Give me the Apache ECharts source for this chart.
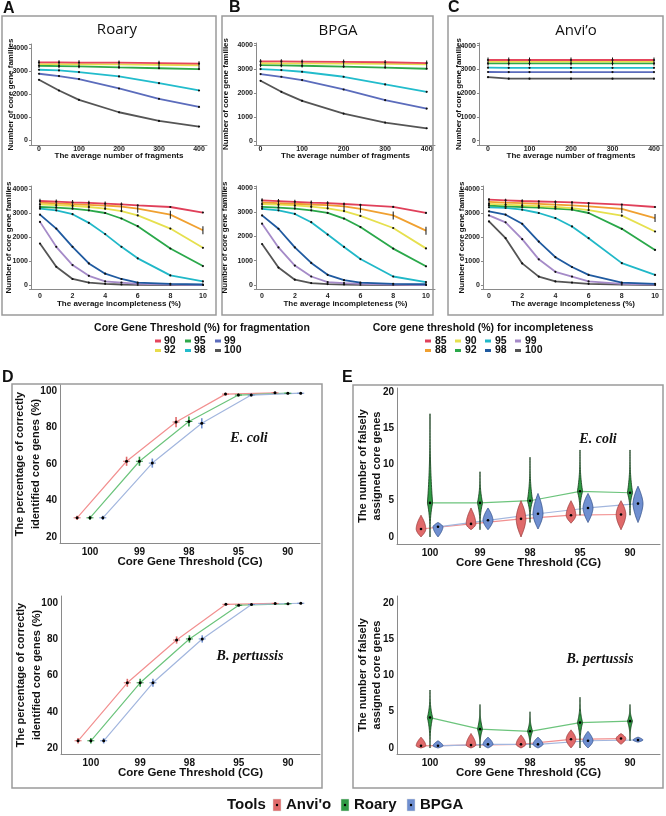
<!DOCTYPE html>
<html><head><meta charset="utf-8">
<script src="https://cdn.jsdelivr.net/npm/echarts@6/dist/echarts.min.js"></script>
<style>html,body{margin:0;padding:0;background:#fff}#c{width:666px;height:816px}</style>
</head><body><div id="c"></div><script>
// ---------- DATA ----------
const fragX = [0, 50, 100, 200, 300, 400];
const fragThresholds = ['90', '92', '95', '98', '99', '100'];
const roaryFrag = [
  [3375, 3372, 3368, 3360, 3345, 3320],
  [3300, 3298, 3294, 3285, 3270, 3250],
  [3229, 3215, 3200, 3156, 3120, 3084],
  [3055, 3025, 2953, 2764, 2473, 2153],
  [2880, 2778, 2647, 2240, 1789, 1440],
  [2618, 2153, 1745, 1207, 829, 582]
];
const bpgaFrag = [
  [3317, 3315, 3310, 3300, 3280, 3247],
  [3240, 3238, 3234, 3225, 3210, 3190],
  [3164, 3150, 3135, 3100, 3060, 3010],
  [2997, 2955, 2885, 2676, 2355, 2049],
  [2787, 2676, 2537, 2146, 1700, 1352],
  [2509, 2049, 1672, 1143, 767, 530]
];
const anvioFrag = [
  [3395, 3395, 3395, 3395, 3395, 3395],
  [3330, 3330, 3330, 3330, 3330, 3330],
  [3255, 3255, 3255, 3255, 3255, 3255],
  [3070, 3065, 3065, 3065, 3065, 3065],
  [2890, 2885, 2885, 2885, 2885, 2885],
  [2670, 2610, 2610, 2610, 2610, 2610]
];
const incX = [0, 1, 2, 3, 4, 5, 6, 8, 10];
const incThresholds = ['85', '88', '90', '92', '95', '98', '99', '100'];
const roaryInc = [
  [3500, 3470, 3440, 3420, 3390, 3360, 3320, 3250, 3020],
  [3430, 3400, 3370, 3340, 3310, 3270, 3180, 2930, 2280],
  [3360, 3330, 3300, 3250, 3180, 3080, 2900, 2350, 1550],
  [3250, 3220, 3180, 3110, 3000, 2770, 2450, 1520, 790],
  [3180, 3110, 2950, 2590, 2120, 1590, 1110, 400, 150],
  [2930, 2350, 1590, 900, 470, 250, 100, 50, 20],
  [2630, 1590, 830, 380, 150, 100, 50, 20, 0],
  [1730, 760, 250, 100, 50, 20, 10, 0, 0]
];
const bpgaInc = [
  [3490, 3460, 3430, 3400, 3380, 3340, 3300, 3220, 2970],
  [3410, 3380, 3350, 3320, 3290, 3240, 3140, 2870, 2240],
  [3340, 3310, 3280, 3230, 3160, 3050, 2850, 2350, 1510],
  [3220, 3190, 3150, 3080, 2970, 2740, 2390, 1500, 770],
  [3140, 3080, 2930, 2590, 2080, 1570, 1070, 350, 120],
  [2870, 2320, 1550, 910, 420, 200, 100, 50, 30],
  [2530, 1550, 800, 350, 120, 80, 50, 20, 0],
  [1690, 720, 220, 80, 40, 20, 10, 0, 0]
];
const anvioInc = [
  [3560, 3530, 3500, 3480, 3460, 3440, 3410, 3350, 3250],
  [3460, 3430, 3410, 3380, 3350, 3320, 3280, 3170, 2790],
  [3380, 3350, 3320, 3290, 3250, 3200, 3120, 2890, 2230],
  [3310, 3280, 3250, 3220, 3180, 3140, 3000, 2340, 1460],
  [3240, 3210, 3140, 3000, 2790, 2440, 1950, 910, 420],
  [3070, 2930, 2550, 1810, 1160, 750, 420, 100, 50],
  [2900, 2610, 1910, 1070, 550, 350, 150, 50, 20],
  [2650, 1950, 900, 350, 150, 100, 50, 20, 0]
];
const CG = ['100', '99', '98', '95', '90'];
const tools = ['Anvi\'o', 'Roary', 'BPGA'];
// D: percentage of correctly identified core genes
const ecoliAnvio = [30.5, 61.5, 83.0, 98.3, 99.0];
const ecoliRoary = [30.5, 61.5, 83.3, 97.8, 98.8];
const ecoliBPGA  = [30.5, 60.5, 82.3, 97.8, 98.8];
const ecoliErr   = [1.2, 2.5, 2.8, 0.8, 0.6];
const pertAnvio  = [24.0, 56.0, 79.6, 99.3, 99.8];
const pertRoary  = [24.0, 56.0, 80.2, 98.8, 99.6];
const pertBPGA   = [24.0, 56.0, 80.2, 99.2, 99.9];
const pertErr    = [1.5, 2.2, 2.0, 0.5, 0.4];
// E: number of falsely assigned core genes (violins: min, median, max)
const ecoliAnvioMin = [0, 1, 0, 1.9, 1], ecoliAnvioMed = [1.1, 1.8, 2.5, 3.0, 3.1], ecoliAnvioMax = [3, 4, 5, 5, 5];
const ecoliRoaryMin = [0, 1, 2, 3, 3], ecoliRoaryMed = [4.7, 4.7, 5.0, 6.3, 6.1], ecoliRoaryMax = [17, 9, 11, 12, 12];
const ecoliBPGAMin  = [0, 1, 1.1, 2, 2], ecoliBPGAMed = [1.4, 2.3, 3.2, 4.0, 4.6], ecoliBPGAMax = [2, 4, 6, 6, 7];
const pertAnvioMin = [0, 0, 0, 0, 0.5], pertAnvioMed = [0.3, 0.4, 0.5, 1.2, 1.3], pertAnvioMax = [1.5, 2, 1.8, 2.5, 2];
const pertRoaryMin = [0, 0, 0, 0, 1], pertRoaryMed = [4.2, 2.6, 2.3, 3.5, 3.7], pertRoaryMax = [8, 6, 5, 7, 6];
const pertBPGAMin  = [0, 0, 0, 0, 0.8], pertBPGAMed = [0.3, 0.5, 0.5, 1.0, 1.1], pertBPGAMax = [1, 1.5, 1.5, 2.3, 1.5];

// ---------- STYLE ----------
const fragColors = ['#e5455c', '#e8dc4c', '#2ea84a', '#22bccc', '#5b6cbc', '#555555'];
const incColors = ['#e0405a', '#f0a030', '#e6e04e', '#2aa84a', '#20b8c8', '#1f5aa0', '#a58ac8', '#555555'];
const toolLine = ['#f29090', '#6cc47c', '#a2b6de'];
const toolFill = ['#e06a6a', '#2f9a44', '#6f8fd0'];
const toolStroke = ['#9a3a3a', '#123a18', '#34508a'];
const SANS = 'Liberation Sans';

const grids = [
  {left: 31, top: 44, width: 176, height: 101},   // 0 A top
  {left: 31, top: 186, width: 176, height: 103},  // 1 A bottom
  {left: 256, top: 43, width: 179, height: 102},  // 2 B top
  {left: 256, top: 186, width: 179, height: 103}, // 3 B bottom
  {left: 479, top: 43, width: 184, height: 102},  // 4 C top
  {left: 483, top: 186, width: 180, height: 103}, // 5 C bottom
  {left: 60, top: 385, width: 260, height: 158},  // 6 D top
  {left: 61, top: 596, width: 259, height: 158},  // 7 D bottom
  {left: 397, top: 388, width: 263, height: 156}, // 8 E top
  {left: 397, top: 596, width: 263, height: 158}  // 9 E bottom
];

function isMult(v, s) { return v >= -1e-9 && Math.abs(v / s - Math.round(v / s)) < 1e-6; }
const axisLineGray = {show: true, onZero: false, lineStyle: {color: '#8a8a8a', width: 1}};

function smallX(gi, min, max, step, name, gap, margin) {
  return {type: 'value', gridIndex: gi, min, max, name, nameLocation: 'middle', nameGap: gap, nameMoveOverlap: false,
    nameTextStyle: {fontFamily: SANS, fontSize: 8, fontWeight: 'bold', color: '#111'},
    axisLine: axisLineGray, axisTick: {show: false}, splitLine: {show: false},
    axisLabel: {fontFamily: SANS, fontSize: 7, fontWeight: 'bold', color: '#222', margin,
      formatter: v => isMult(v, step) ? String(Math.round(v)) : ''}};
}
function smallY(gi, min, max, gap) {
  return {type: 'value', gridIndex: gi, min, max, name: 'Number of core gene families', nameLocation: 'middle', nameGap: gap, nameMoveOverlap: false,
    nameTextStyle: {fontFamily: SANS, fontSize: 8, fontWeight: 'bold', color: '#111'},
    axisLine: axisLineGray, axisTick: {show: true, length: 2, lineStyle: {color: '#8a8a8a'}},
    splitLine: {show: false},
    axisLabel: {fontFamily: SANS, fontSize: 7, fontWeight: 'bold', color: '#222', margin: 3,
      formatter: v => isMult(v, 1000) ? String(Math.round(v)) : ''}};
}
function bigX(gi, min, max) {
  return {type: 'value', gridIndex: gi, min, max, name: 'Core Gene Threshold (CG)', nameLocation: 'middle', nameGap: 13, nameMoveOverlap: false,
    nameTextStyle: {fontFamily: SANS, fontSize: 11.5, fontWeight: 'bold', color: '#111'},
    axisLine: axisLineGray, axisTick: {show: false}, splitLine: {show: false},
    axisLabel: {fontFamily: SANS, fontSize: 10, fontWeight: 'bold', color: '#111', margin: 4,
      formatter: v => (isMult(v, 1) && v <= 4) ? CG[Math.round(v)] : ''}};
}
function bigY(gi, min, max, step, name, gap, lh) {
  return {type: 'value', gridIndex: gi, min, max, name, nameLocation: 'middle', nameGap: gap, nameMoveOverlap: false,
    nameTextStyle: {fontFamily: SANS, fontSize: 11, fontWeight: 'bold', color: '#111', lineHeight: lh},
    axisLine: axisLineGray, axisTick: {show: false}, splitLine: {show: false},
    axisLabel: {fontFamily: SANS, fontSize: 10, fontWeight: 'bold', color: '#111', margin: 3,
      formatter: v => isMult(v, step) ? String(Math.round(v)) : ''}};
}

const xAxes = [
  smallX(0, -20, 420, 100, 'The average number of fragments', 7, 1),
  smallX(1, -0.55, 10.25, 2, 'The average incompleteness (%)', 11, 4),
  smallX(2, -11, 420, 100, 'The average number of fragments', 7, 1),
  smallX(3, -0.37, 10.55, 2, 'The average incompleteness (%)', 11, 4),
  smallX(4, -21.7, 421.7, 100, 'The average number of fragments', 7, 1),
  smallX(5, -0.36, 10.48, 2, 'The average incompleteness (%)', 11, 4),
  bigX(6, -0.606, 4.65),
  bigX(7, -0.606, 4.65),
  bigX(8, -0.66, 4.6),
  bigX(9, -0.66, 4.6)
];
const yAxes = [
  smallY(0, -217, 4174, 16),
  smallY(1, -167, 4125, 18),
  smallY(2, -167, 4083, 26),
  smallY(3, -165, 4082, 27),
  smallY(4, -181, 4109, 16),
  smallY(5, -167, 4125, 17),
  bigY(6, 16.7, 103.3, 20, 'The percentage of correctly\nidentified core genes (%)', 16, 16),
  bigY(7, 16.7, 103.9, 20, 'The percentage of correctly\nidentified core genes (%)', 16, 16),
  bigY(8, -0.97, 20.55, 5, 'The number of falsely\nassigned core genes', 13, 14),
  bigY(9, -0.83, 20.97, 5, 'The number of falsely\nassigned core genes', 13, 14)
];

const series = [];
function addLines(gi, xs, sets, colors, barIdx) {
  sets.forEach((vals, k) => {
    const isBar = k === barIdx;
    series.push({type: 'line', xAxisIndex: gi, yAxisIndex: gi, data: xs.map((x, i) => [x, vals[i]]),
      symbol: isBar ? 'rect' : 'circle', symbolSize: isBar ? [1, 8] : 2.2, showSymbol: true,
      itemStyle: {color: '#111'}, lineStyle: {color: colors[k], width: 1.8}, z: 3 + (sets.length - k) * 0.01,
      silent: true, animation: false});
  });
}
addLines(0, fragX, roaryFrag, fragColors, 1);
addLines(2, fragX, bpgaFrag, fragColors, 1);
addLines(4, fragX, anvioFrag, fragColors, 1);
addLines(1, incX, roaryInc, incColors, 1);
addLines(3, incX, bpgaInc, incColors, 1);
addLines(5, incX, anvioInc, incColors, 1);

// D panel
const dOff = [-0.26, 0, 0.26];
function addD(gi, sets, errs) {
  sets.forEach((vals, t) => {
    series.push({type: 'line', xAxisIndex: gi, yAxisIndex: gi, data: vals.map((v, i) => [i + dOff[t], v]),
      symbol: 'none', lineStyle: {color: toolLine[t], width: 1.2}, z: 2, animation: false});
    series.push({type: 'custom', xAxisIndex: gi, yAxisIndex: gi, z: 5, animation: false,
      data: vals.map((v, i) => [i + dOff[t], v, errs[i]]),
      encode: {x: 0, y: 1},
      renderItem: (p, api) => {
        const x = api.value(0), v = api.value(1), e = api.value(2);
        const a = api.coord([x, v - e]), b = api.coord([x, v + e]), c = api.coord([x, v]);
        return {type: 'group', children: [
          {type: 'line', shape: {x1: a[0], y1: a[1], x2: b[0], y2: b[1]}, style: {stroke: toolFill[t], lineWidth: 1.6}},
          {type: 'line', shape: {x1: c[0] - 3.5, y1: c[1], x2: c[0] + 3.5, y2: c[1]}, style: {stroke: toolFill[t], lineWidth: 1}},
          {type: 'circle', shape: {cx: c[0], cy: c[1], r: 1.5}, style: {fill: '#000'}}
        ]};
      }});
  });
}
addD(6, [ecoliAnvio, ecoliRoary, ecoliBPGA], ecoliErr);
addD(7, [pertAnvio, pertRoary, pertBPGA], pertErr);

// E panel violins
const eOff = [-0.18, 0, 0.16];
const vHalf = [4.8, 2.6, 5];
const vShape = [[1.8, 1.1], [1.0, 2.6], [1.6, 1.0]];
function addE(gi, mins, meds, maxs) {
  [0, 1, 2].forEach(t => {
    series.push({type: 'line', xAxisIndex: gi, yAxisIndex: gi, data: meds[t].map((v, i) => [i + eOff[t], v]),
      symbol: 'none', lineStyle: {color: toolLine[t], width: 1.2}, z: 2, animation: false});
  });
  [0, 1, 2].forEach(t => {
    series.push({type: 'custom', xAxisIndex: gi, yAxisIndex: gi, z: 4, animation: false,
      data: meds[t].map((v, i) => [i + eOff[t], mins[t][i], v, maxs[t][i]]),
      encode: {x: 0, y: [1, 2, 3]},
      renderItem: (p, api) => {
        const x = api.value(0), lo = api.value(1), med = api.value(2), hi = api.value(3);
        const pl = api.coord([x, lo]), pm = api.coord([x, med]), ph = api.coord([x, hi]);
        const cx = pl[0], N = 40, right = [], left = [];
        const [ea, eb] = vShape[t];
        for (let i = 0; i <= N; i++) {
          const y = ph[1] + (pl[1] - ph[1]) * i / N;
          const d = y < pm[1] ? (pm[1] - y) / Math.max(1e-6, pm[1] - ph[1]) : (y - pm[1]) / Math.max(1e-6, pl[1] - pm[1]);
          const w = vHalf[t] * Math.pow(Math.max(0, 1 - Math.pow(Math.min(1, d), ea)), eb);
          right.push([cx + w, y]); left.unshift([cx - w, y]);
        }
        return {type: 'group', children: [
          {type: 'polygon', shape: {points: right.concat(left)}, style: {fill: toolFill[t], stroke: toolStroke[t], lineWidth: 0.8}},
          {type: 'circle', shape: {cx: cx, cy: pm[1], r: 1.3}, style: {fill: '#000'}}
        ]};
      }});
  });
}
addE(8, [ecoliAnvioMin, ecoliRoaryMin, ecoliBPGAMin], [ecoliAnvioMed, ecoliRoaryMed, ecoliBPGAMed], [ecoliAnvioMax, ecoliRoaryMax, ecoliBPGAMax]);
addE(9, [pertAnvioMin, pertRoaryMin, pertBPGAMin], [pertAnvioMed, pertRoaryMed, pertBPGAMed], [pertAnvioMax, pertRoaryMax, pertBPGAMax]);

// ---------- GRAPHICS (frames, titles, legends) ----------
const g = [];
function box(x1, y1, x2, y2) { g.push({type: 'rect', shape: {x: x1, y: y1, width: x2 - x1, height: y2 - y1}, style: {fill: 'none', stroke: '#9a9a9a', lineWidth: 1.5}, silent: true}); }
function txt(text, x, y, font, align, color) { g.push({type: 'text', x, y, style: {text, font, fill: color || '#111', textAlign: align || 'center', textVerticalAlign: 'middle'}, silent: true}); }
box(2, 16, 216, 315); box(222, 16, 433, 315); box(448, 16, 663, 315);
box(12, 384, 322, 788); box(353, 385, 663, 788);
txt('A', 3, 9, 'bold 16px ' + SANS, 'left');
txt('B', 229, 8, 'bold 16px ' + SANS, 'left');
txt('C', 448, 8, 'bold 16px ' + SANS, 'left');
txt('D', 2, 378, 'bold 16px ' + SANS, 'left');
txt('E', 342, 378, 'bold 16px ' + SANS, 'left');
txt('Roary', 117, 30, '15px "Open Sans"');
txt('BPGA', 338, 31, '15px "Open Sans"');
txt('Anvi\u2019o', 576, 31, '15px "Open Sans"');
// legends
txt('Core Gene Threshold (%) for fragmentation', 202, 328, 'bold 10.5px ' + SANS);
const fragLegX = [155, 185, 215];
const fragOrder = [[0, 2, 4], [1, 3, 5]];
fragOrder.forEach((row, r) => row.forEach((k, c) => {
  const y = 341 + r * 9.5;
  g.push({type: 'rect', shape: {x: fragLegX[c], y: y - 1.5, width: 6, height: 3}, style: {fill: fragColors[k]}, silent: true});
  txt(fragThresholds[k], fragLegX[c] + 9, y, 'bold 10.5px ' + SANS, 'left');
}));
txt('Core gene threshold (%) for incompleteness', 483, 328, 'bold 10.5px ' + SANS);
const incLegX = [425, 455, 485, 515];
const incOrder = [[0, 2, 4, 6], [1, 3, 5, 7]];
incOrder.forEach((row, r) => row.forEach((k, c) => {
  const y = 341 + r * 9.5;
  g.push({type: 'rect', shape: {x: incLegX[c], y: y - 1.5, width: 6, height: 3}, style: {fill: incColors[k]}, silent: true});
  txt(incThresholds[k], incLegX[c] + 10, y, 'bold 10.5px ' + SANS, 'left');
}));
// species labels
txt('E. coli', 249, 438, 'italic bold 14px "Liberation Serif"');
txt('B. pertussis', 250, 656, 'italic bold 14px "Liberation Serif"');
txt('E. coli', 598, 439, 'italic bold 14px "Liberation Serif"');
txt('B. pertussis', 600, 659, 'italic bold 14px "Liberation Serif"');
// tools legend
txt('Tools', 227, 805, 'bold 15px ' + SANS, 'left');
const toolLegX = [273, 341, 407];
tools.forEach((t, k) => {
  g.push({type: 'rect', shape: {x: toolLegX[k], y: 799, width: 8, height: 12}, style: {fill: toolFill[k], stroke: '#ddd', lineWidth: 0.5}, silent: true});
  g.push({type: 'circle', shape: {cx: toolLegX[k] + 4, cy: 805, r: 1.2}, style: {fill: '#000'}, silent: true});
  txt(t, toolLegX[k] + 13, 805, 'bold 15px ' + SANS, 'left');
});

const chart = echarts.init(document.getElementById('c'), null, {renderer: 'canvas'});
chart.setOption({
  animation: false,
  backgroundColor: '#fff',
  grid: grids,
  xAxis: xAxes,
  yAxis: yAxes,
  series,
  graphic: {elements: g}
});
</script></body></html>
